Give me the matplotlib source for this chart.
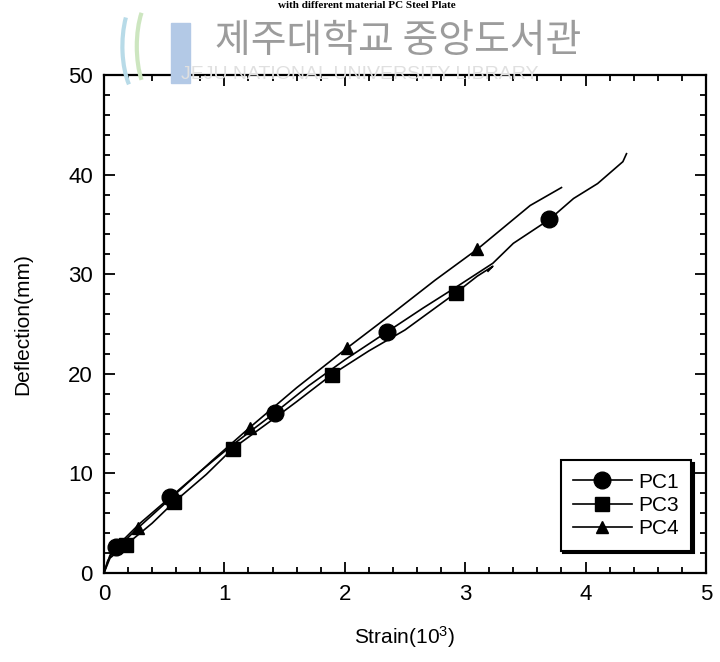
import matplotlib
matplotlib.use('Agg')
import matplotlib.pyplot as plt
from matplotlib.patches import Rectangle, Arc
from matplotlib.ticker import MultipleLocator

plt.rcParams['font.family'] = ['Liberation Sans', 'DejaVu Sans']
plt.rcParams['mathtext.fontset'] = 'custom'
plt.rcParams['mathtext.rm'] = 'Liberation Sans'
plt.rcParams['mathtext.it'] = 'Liberation Sans'

# datos (strain en 10^-3, deflexion en mm)
pc1_x = [0, 0.03, 0.1, 0.3, 0.55, 0.8, 1.05, 1.42, 1.7, 2.0, 2.35, 2.65, 2.95,
         3.23, 3.4, 3.7, 3.9, 4.1, 4.31, 4.34]
pc1_y = [0, 1.2, 2.6, 5.0, 7.6, 10.2, 12.7, 16.1, 18.8, 21.4, 24.2, 26.6, 28.9,
         31.1, 33.1, 35.5, 37.6, 39.1, 41.3, 42.1]
pc1_marks = [2, 4, 7, 10, 15]

pc3_x = [0, 0.05, 0.18, 0.4, 0.58, 0.85, 1.07, 1.4, 1.6, 1.89, 2.2, 2.5, 2.92,
         3.1, 3.23, 3.19]
pc3_y = [0, 1.5, 2.8, 5.0, 7.1, 9.9, 12.5, 15.4, 17.2, 19.9, 22.3, 24.4, 28.1,
         29.8, 30.8, 30.3]
pc3_marks = [2, 4, 6, 9, 12]

pc4_x = [0, 0.05, 0.28, 0.6, 0.9, 1.21, 1.6, 2.02, 2.4, 2.75, 3.1, 3.3, 3.54, 3.8]
pc4_y = [0, 1.8, 4.5, 8.0, 11.3, 14.6, 18.6, 22.6, 26.1, 29.4, 32.5, 34.5, 36.9, 38.7]
pc4_marks = [2, 5, 7, 10]

fig = plt.figure(figsize=(7.2, 6.62), dpi=100)
ax = fig.add_axes([0.1444, 0.1344, 0.8361, 0.7523])

ax.plot(pc1_x, pc1_y, 'k-', lw=1.2, marker='o', ms=12, markevery=pc1_marks, label='PC1')
ax.plot(pc3_x, pc3_y, 'k-', lw=1.2, marker='s', ms=10, markevery=pc3_marks, label='PC3')
ax.plot(pc4_x, pc4_y, 'k-', lw=1.2, marker='^', ms=8, markevery=pc4_marks, label='PC4')

ax.set_xlim(0, 5)
ax.set_ylim(0, 50)
ax.xaxis.set_major_locator(MultipleLocator(1))
ax.xaxis.set_minor_locator(MultipleLocator(0.2))
ax.yaxis.set_major_locator(MultipleLocator(10))
ax.yaxis.set_minor_locator(MultipleLocator(2))
ax.tick_params(which='both', direction='in', top=True, right=True, width=1.3,
               labelsize=16, colors='black')
ax.tick_params(which='major', length=8, pad=8)
ax.tick_params(which='minor', length=4.5)
for s in ax.spines.values():
    s.set_linewidth(1.6)

ax.set_xlabel('Strain(10$^3$)', fontsize=15, labelpad=14)
ax.set_ylabel('Deflection(mm)', fontsize=15, labelpad=26)

leg = ax.legend(loc='lower right', bbox_to_anchor=(0.975, 0.045), fontsize=15,
                frameon=True, fancybox=False, shadow={'color': 'black', 'alpha': 1},
                handlelength=2.8, borderpad=0.6, labelspacing=0.2, handletextpad=0.3,
                borderaxespad=0)
leg.get_frame().set_edgecolor('black')
leg.get_frame().set_linewidth(1.5)

# marca de agua de la biblioteca (escaneo original)
fig.text(0.553, 0.938, '제주대학교 중앙도서관', fontsize=28, color='#9c9c9c',
         family=['Noto Sans CJK KR', 'DejaVu Sans'], ha='center', va='center')
fig.text(0.50, 0.887, 'JEJU NATIONAL UNIVERSITY LIBRARY', fontsize=14, color='#e0e0e0',
         ha='center', va='center', zorder=0)
fig.patches.append(Rectangle((0.238, 0.875), 0.026, 0.09, transform=fig.transFigure,
                             color='#b3c9e6', zorder=0))
fig.patches.append(Arc((0.20, 0.93), 0.06, 0.16, theta1=120, theta2=250,
                       transform=fig.transFigure, color='#b8dbe8', lw=3, zorder=0))
fig.patches.append(Arc((0.215, 0.93), 0.05, 0.15, theta1=110, theta2=250,
                       transform=fig.transFigure, color='#cde6c0', lw=3, zorder=0))

# titulo (recortado en el original), aqui pequeno pero completo
fig.text(0.51, 0.999, 'with different material PC Steel Plate', fontsize=8,
         fontweight='bold', family='Liberation Serif', ha='center', va='top')

fig.savefig('out.png', dpi=100)
